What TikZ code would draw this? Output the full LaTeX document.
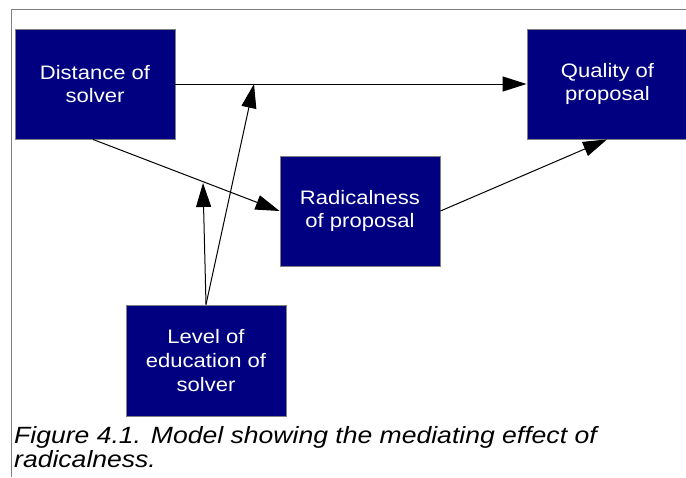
\documentclass[tikz,border=0pt]{standalone}
\usepackage{fontspec}
\setmainfont{Liberation Sans}[FakeStretch=1.13]
\usetikzlibrary{arrows.meta}
\definecolor{navy}{HTML}{000080}
\definecolor{frame}{HTML}{808080}
\tikzset{
  box/.style={draw=frame, line width=0.9pt, fill=navy, text=white, minimum width=160pt, minimum height=110pt, inner sep=0pt, align=center, font=\fontsize{19.5}{23.7}\selectfont},
  arr/.style={draw=black, line width=1pt, -{Triangle[length=24pt,width=15pt]}},
  captxt/.style={anchor=base west, inner sep=0pt, font=\fontsize{23.5}{24}\selectfont\itshape}
}
\begin{document}
\begin{tikzpicture}[x=1pt,y=-1pt]
\useasboundingbox (0,0) rectangle (686,477);
\draw[frame, line width=1pt] (686,9) -- (11,9) -- (11,477);
\node[box] (dist) at (95,84) {Distance of\\solver};
\node[box, minimum width=161pt] (qual) at (607.5,84) {Quality of\\proposal};
\node[box] (rad) at (360,211) {Radicalness\\of proposal};
\node[box, minimum height=111pt] (lev) at (206,360.5) {Level of\\education of\\solver};
\coordinate (m1) at (203,183);
\coordinate (m2) at (254,84);
\draw[arr] (dist.east) -- (dist.east -| qual.west);
\draw[arr] ([xshift=-2pt]dist.south) -- (rad.west);
\draw[arr] (rad.east) -- ([xshift=-0.5pt]qual.south);
\draw[arr] (lev.north) -- (m1);
\draw[arr] (lev.north) -- (m2);
\node[captxt] (cap1) at (14,443) {Figure 4.1. Model showing the mediating effect of};
\node[captxt] (cap2) at (14,467) {radicalness.};
\end{tikzpicture}
\end{document}
